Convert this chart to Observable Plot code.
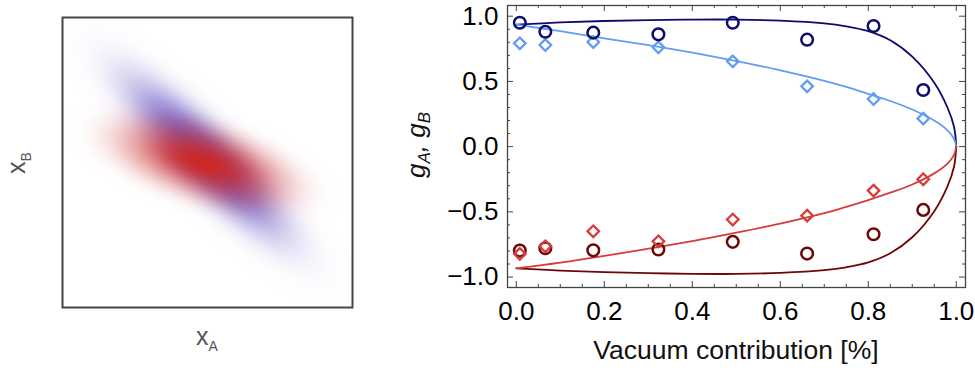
<!DOCTYPE html>
<html><head><meta charset="utf-8">
<script src="https://cdn.jsdelivr.net/npm/d3@7"></script>
<script src="https://cdn.jsdelivr.net/npm/@observablehq/plot@0.6"></script>
<style>
html,body{margin:0;padding:0;background:#fff;}
#wrap{position:relative;width:975px;height:371px;overflow:hidden;font-family:"Liberation Sans",Arial,sans-serif;}
#left{position:absolute;left:0;top:0;}
#right{position:absolute;left:375px;top:0;}
</style></head><body>
<div id="wrap"><div id="left"></div><div id="right"></div></div>
<script>
// ---------- Left panel: two distributions (visible extents) ----------
const blobNames = ["blue", "red"];
const blobCenterX = [-0.01, -0.03];
const blobCenterY = [0.03, 0.0];
const blobSemiMajor = [1.1, 0.86];
const blobSemiMinor = [0.30, 0.33];
const blobAngleDeg = [-45, -17];

// ---------- Right panel data ----------
const vacuum = [0.008, 0.066, 0.175, 0.323, 0.492, 0.661, 0.812, 0.925];
const gA_circles = [0.95, 0.881, 0.874, 0.861, 0.95, 0.82, 0.925, 0.434];
const gA_diamonds = [0.792, 0.779, 0.802, 0.761, 0.654, 0.462, 0.365, 0.215];
const gB_diamonds = [-0.822, -0.764, -0.649, -0.726, -0.559, -0.529, -0.337, -0.25];
const gB_circles = [-0.797, -0.779, -0.795, -0.789, -0.73, -0.82, -0.672, -0.485];

const curveX = [0, 0.1, 0.2, 0.3, 0.4, 0.5, 0.6, 0.7, 0.75, 0.8, 0.85, 0.9, 0.95, 0.98, 0.995, 1];
const curveA_dark = [0.935, 0.952, 0.963, 0.97, 0.974, 0.974, 0.966, 0.945, 0.922, 0.885, 0.815, 0.69, 0.49, 0.3, 0.15, 0];
const curveA_light = [0.935, 0.885, 0.83, 0.778, 0.72, 0.655, 0.585, 0.505, 0.458, 0.405, 0.35, 0.285, 0.2, 0.125, 0.06, 0];
const curveB_light = [-0.933, -0.89, -0.838, -0.782, -0.725, -0.66, -0.59, -0.51, -0.462, -0.41, -0.353, -0.29, -0.205, -0.13, -0.063, 0];
const curveB_dark = [-0.933, -0.95, -0.962, -0.97, -0.975, -0.976, -0.968, -0.947, -0.925, -0.888, -0.818, -0.695, -0.495, -0.305, -0.152, 0];

const xMajor = [0, 0.2, 0.4, 0.6, 0.8, 1.0];
const xMinor = [0.05, 0.1, 0.15, 0.25, 0.3, 0.35, 0.45, 0.5, 0.55, 0.65, 0.7, 0.75, 0.85, 0.9, 0.95];
const yMajor = [-1, -0.5, 0, 0.5, 1];
const yMinor = [-0.9, -0.8, -0.7, -0.6, -0.4, -0.3, -0.2, -0.1, 0.1, 0.2, 0.3, 0.4, 0.6, 0.7, 0.8, 0.9];

// ---------- styles ----------
const blobColors = {blue: "rgb(112,95,200)", red: "rgb(205,40,38)"};
// opacity profile (functions of normalised radius q)
const blobProfile = {
  blue: (q) => 1.0 * Math.exp(-3.2 * Math.pow(q, 2.5)),
  red: (q) => 0.42 * Math.exp(-3 * Math.pow(q, 4)) + 0.58 * Math.exp(-6 * q * q)
};
const NAVY = "#0c0c6e", LIGHTBLUE = "#629df2", RED = "#d73b3b", DARKRED = "#6e0808";
const FONT = "'Liberation Sans', Arial, sans-serif";

function alphaAt(i, x, y) {
  const dx = x - blobCenterX[i], dy = y - blobCenterY[i];
  const t = blobAngleDeg[i] * Math.PI / 180;
  const u = dx * Math.cos(t) + dy * Math.sin(t);
  const v = -dx * Math.sin(t) + dy * Math.cos(t);
  const q = Math.sqrt((u / blobSemiMajor[i]) ** 2 + (v / blobSemiMinor[i]) ** 2);
  return Math.min(1, blobProfile[blobNames[i]](q));
}

const left = Plot.plot({
  width: 370, height: 371,
  marginLeft: 62, marginRight: 18, marginTop: 17, marginBottom: 64,
  style: {fontFamily: FONT, background: "white"},
  x: {domain: [-1, 1], axis: null},
  y: {domain: [-1, 1], axis: null},
  opacity: {type: "identity"},
  marks: [
    ...blobNames.map((name, i) => Plot.raster({
      x1: -1, x2: 1, y1: -1, y2: 1,
      fill: blobColors[name],
      fillOpacity: (x, y) => alphaAt(i, x, y)
    })),
    Plot.frame({stroke: "#444", strokeWidth: 2})
  ]
});
document.getElementById("left").appendChild(left);
{
  const s = d3.select(left);
  const tA = s.append("text").attr("x", 207).attr("y", 345).attr("text-anchor", "middle")
    .attr("fill", "#555").style("font-size", "25px").style("font-family", FONT);
  tA.append("tspan").text("x");
  tA.append("tspan").attr("dy", 6).style("font-size", "14px").text("A");
  const tB = s.append("text").attr("transform", "translate(25,163) rotate(-90)").attr("text-anchor", "middle")
    .attr("fill", "#555").style("font-size", "25px").style("font-family", FONT);
  tB.append("tspan").text("x");
  tB.append("tspan").attr("dy", 6).style("font-size", "14px").text("B");
}

// ---------- Right panel ----------
const RW = 600, RH = 371, mL = 132, mR = 10, mT = 5, mB = 84;
const FW = RW - mL - mR, FH = RH - mT - mB;
const pts = (ys) => vacuum.map((x, i) => ({x, y: ys[i]}));
const crv = (ys) => curveX.map((x, i) => ({x, y: ys[i]}));
const id = (d) => d;
const tickStyle = {stroke: "#444", strokeWidth: 1};

const right = Plot.plot({
  width: RW, height: RH,
  marginLeft: mL, marginRight: mR, marginTop: mT, marginBottom: mB,
  style: {fontFamily: FONT, fontSize: "26px", color: "#000", background: "white"},
  x: {domain: [-0.02, 1.021], ticks: xMajor, tickFormat: d3.format(".1f"), tickSize: 0, tickPadding: 14, label: null},
  y: {domain: [-1.08, 1.082], ticks: yMajor, tickFormat: d3.format(".1f"), tickSize: 0, tickPadding: 9, label: null},
  marks: [
    Plot.tickX(xMajor, {x: id, insetTop: FH - 6, ...tickStyle}),
    Plot.tickX(xMajor, {x: id, insetBottom: FH - 6, ...tickStyle}),
    Plot.tickX(xMinor, {x: id, insetTop: FH - 3, ...tickStyle}),
    Plot.tickX(xMinor, {x: id, insetBottom: FH - 3, ...tickStyle}),
    Plot.tickY(yMajor, {y: id, insetRight: FW - 6, ...tickStyle}),
    Plot.tickY(yMajor, {y: id, insetLeft: FW - 6, ...tickStyle}),
    Plot.tickY(yMinor, {y: id, insetRight: FW - 3, ...tickStyle}),
    Plot.tickY(yMinor, {y: id, insetLeft: FW - 3, ...tickStyle}),
    Plot.line(crv(curveA_dark), {x: "x", y: "y", stroke: NAVY, strokeWidth: 1.8, curve: "catmull-rom"}),
    Plot.line(crv(curveA_light), {x: "x", y: "y", stroke: LIGHTBLUE, strokeWidth: 1.8, curve: "catmull-rom"}),
    Plot.line(crv(curveB_dark), {x: "x", y: "y", stroke: DARKRED, strokeWidth: 1.8, curve: "catmull-rom"}),
    Plot.line(crv(curveB_light), {x: "x", y: "y", stroke: RED, strokeWidth: 1.8, curve: "catmull-rom"}),
    Plot.dot(pts(gB_circles), {x: "x", y: "y", r: 5.8, stroke: DARKRED, strokeWidth: 2.5}),
    Plot.dot(pts(gB_diamonds), {x: "x", y: "y", r: 5.2, symbol: "diamond2", stroke: RED, strokeWidth: 2.3}),
    Plot.dot(pts(gA_diamonds), {x: "x", y: "y", r: 5.2, symbol: "diamond2", stroke: LIGHTBLUE, strokeWidth: 2.3}),
    Plot.dot(pts(gA_circles), {x: "x", y: "y", r: 5.8, stroke: NAVY, strokeWidth: 2.5}),
    Plot.frame({stroke: "#444", strokeWidth: 1.3})
  ]
});
document.getElementById("right").appendChild(right);
{
  const s = d3.select(right);
  s.append("text").attr("x", mL + FW / 2).attr("y", 359).attr("text-anchor", "middle")
    .attr("fill", "#111").style("font-size", "26.5px").style("font-family", FONT)
    .text("Vacuum contribution [%]");
  const g = s.append("text").attr("transform", `translate(50,145) rotate(-90)`).attr("text-anchor", "middle")
    .attr("fill", "#111").style("font-size", "26px").style("font-style", "italic").style("font-family", FONT);
  g.append("tspan").text("g");
  g.append("tspan").attr("dy", 5).style("font-size", "17px").text("A");
  g.append("tspan").attr("dy", -5).text(", g");
  g.append("tspan").attr("dy", 5).style("font-size", "17px").text("B");
}
</script>
</body></html>
